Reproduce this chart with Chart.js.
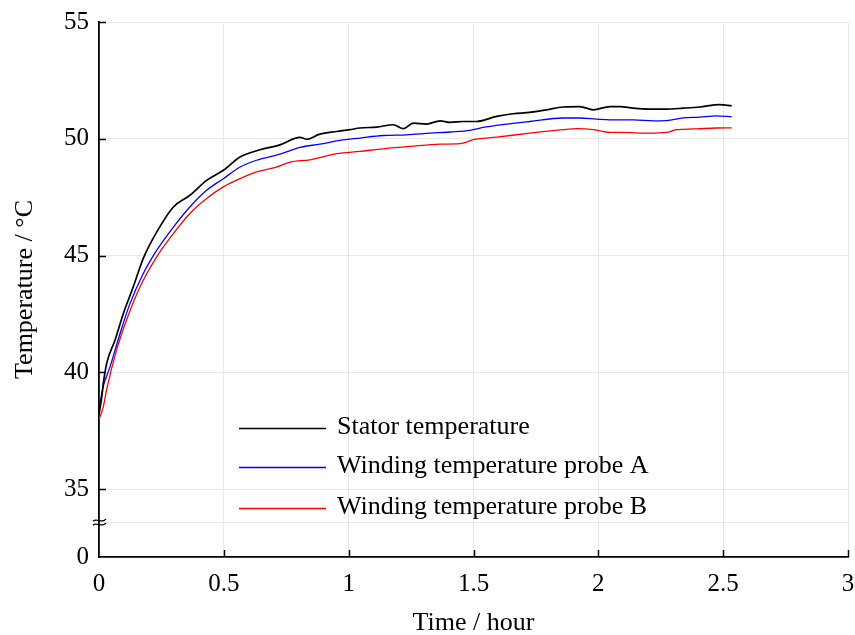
<!DOCTYPE html>
<html>
<head>
<meta charset="utf-8">
<script src="https://cdn.jsdelivr.net/npm/chart.js@4"></script>
<style>
  html, body { margin: 0; padding: 0; background: #fff; }
  #wrap { width: 855px; height: 635px; }
</style>
</head>
<body>
<div id="wrap"><canvas id="tempChart" width="855" height="635"></canvas></div>
<script>
const seriesLabels = ['Stator temperature', 'Winding temperature probe A', 'Winding temperature probe B'];
const seriesColors = ['#000000', '#0000ff', '#ff0000'];

const statorTime = [0, 0.011, 0.017, 0.031, 0.064, 0.097, 0.137, 0.177, 0.231, 0.298, 0.364, 0.431, 0.498, 0.565, 0.645, 0.725, 0.805, 0.832, 0.885, 0.952, 1.005, 1.045, 1.112, 1.179, 1.219, 1.259, 1.312, 1.366, 1.406, 1.459, 1.513, 1.593, 1.659, 1.726, 1.793, 1.859, 1.926, 1.980, 2.046, 2.086, 2.140, 2.206, 2.273, 2.340, 2.406, 2.486, 2.534];
const statorTemp = [38.2, 38.94, 39.5, 40.39, 41.37, 42.5, 43.65, 44.87, 46.0, 47.08, 47.58, 48.22, 48.65, 49.22, 49.53, 49.74, 50.06, 49.98, 50.2, 50.31, 50.39, 50.46, 50.5, 50.6, 50.43, 50.67, 50.63, 50.77, 50.7, 50.74, 50.74, 50.96, 51.07, 51.13, 51.24, 51.36, 51.38, 51.24, 51.38, 51.38, 51.31, 51.27, 51.27, 51.31, 51.36, 51.46, 51.41];

const probeATime = [0, 0.011, 0.017, 0.044, 0.084, 0.124, 0.177, 0.231, 0.298, 0.364, 0.431, 0.498, 0.565, 0.631, 0.725, 0.805, 0.885, 0.965, 1.045, 1.139, 1.232, 1.326, 1.406, 1.486, 1.526, 1.593, 1.726, 1.859, 1.926, 1.993, 2.046, 2.140, 2.220, 2.273, 2.340, 2.406, 2.473, 2.534];
const probeATemp = [38.4, 39.09, 39.4, 40.23, 41.65, 42.94, 44.22, 45.22, 46.22, 47.08, 47.79, 48.29, 48.79, 49.08, 49.34, 49.63, 49.77, 49.93, 50.03, 50.14, 50.17, 50.24, 50.29, 50.36, 50.46, 50.57, 50.74, 50.89, 50.89, 50.84, 50.81, 50.81, 50.77, 50.78, 50.89, 50.93, 50.98, 50.94];

const probeBTime = [0, 0.017, 0.03, 0.07, 0.11, 0.164, 0.231, 0.298, 0.364, 0.431, 0.498, 0.565, 0.631, 0.711, 0.765, 0.845, 0.952, 1.045, 1.139, 1.245, 1.366, 1.446, 1.499, 1.593, 1.726, 1.859, 1.913, 1.980, 2.046, 2.086, 2.206, 2.273, 2.313, 2.380, 2.473, 2.534];
const probeBTemp = [38.0, 38.51, 39.23, 40.94, 42.23, 43.65, 44.94, 45.94, 46.8, 47.44, 47.94, 48.29, 48.58, 48.79, 49.0, 49.1, 49.36, 49.46, 49.57, 49.67, 49.77, 49.79, 49.96, 50.07, 50.24, 50.39, 50.43, 50.39, 50.27, 50.27, 50.24, 50.27, 50.39, 50.42, 50.46, 50.47];

const xTicks = [0, 0.5, 1, 1.5, 2, 2.5, 3];
const yTicks = [35, 40, 45, 50, 55];
// eixo quebrado: o fundo representa 0, a quebra fica logo abaixo de 35
const yBottom = 32.09;
const yBreak = 33.58;

const FONT = "'Liberation Serif', 'DejaVu Serif', serif";

function toPoints(xs, ys) {
  return xs.map((x, i) => ({ x: x, y: ys[i] }));
}

// Marcas de escala para dentro, símbolo de quebra e legenda
const extrasPlugin = {
  id: 'extras',
  afterDraw(chart) {
    const ctx = chart.ctx;
    const xs = chart.scales.x;
    const ys = chart.scales.y;
    const area = chart.chartArea;
    ctx.save();
    ctx.strokeStyle = '#000';
    ctx.lineWidth = 1.5;
    // ticks do eixo y
    yTicks.forEach(v => {
      const py = Math.round(ys.getPixelForValue(v)) + 0.5;
      ctx.beginPath();
      ctx.moveTo(area.left, py);
      ctx.lineTo(area.left + 7, py);
      ctx.stroke();
    });
    // ticks do eixo x
    xTicks.slice(1).forEach(v => {
      const px = Math.round(xs.getPixelForValue(v)) + 0.5;
      ctx.beginPath();
      ctx.moveTo(px, area.bottom);
      ctx.lineTo(px, area.bottom - 7);
      ctx.stroke();
    });
    // símbolo de quebra
    const by = ys.getPixelForValue(yBreak);
    ctx.lineWidth = 1.2;
    [-2, 2].forEach(off => {
      ctx.beginPath();
      const x0 = area.left - 6, x1 = area.left + 7;
      ctx.moveTo(x0, by + off + 1);
      ctx.bezierCurveTo(x0 + 4, by + off - 3, x1 - 6, by + off + 4, x1, by + off - 1);
      ctx.stroke();
    });
    // legenda
    ctx.font = '26px ' + FONT;
    ctx.textBaseline = 'middle';
    ctx.fillStyle = '#000';
    const lx = area.left + 140;
    const rows = [428, 467, 508];
    chart.data.datasets.forEach((ds, i) => {
      const ly = rows[i] + 0.5;
      ctx.strokeStyle = ds.borderColor;
      ctx.lineWidth = 1.3;
      ctx.beginPath();
      ctx.moveTo(lx, ly);
      ctx.lineTo(lx + 87, ly);
      ctx.stroke();
      ctx.fillText(ds.label, lx + 98, ly - 1);
    });
    ctx.restore();
  }
};

const ctx = document.getElementById('tempChart').getContext('2d');
new Chart(ctx, {
  type: 'line',
  data: {
    datasets: [
      { label: seriesLabels[0], data: toPoints(statorTime, statorTemp), borderColor: seriesColors[0], borderWidth: 1.7 },
      { label: seriesLabels[1], data: toPoints(probeATime, probeATemp), borderColor: seriesColors[1], borderWidth: 1.3 },
      { label: seriesLabels[2], data: toPoints(probeBTime, probeBTemp), borderColor: seriesColors[2], borderWidth: 1.3 }
    ]
  },
  options: {
    responsive: false,
    animation: false,
    devicePixelRatio: 1,
    layout: { padding: { left: 0, right: 7, top: 22, bottom: 0 } },
    elements: { point: { radius: 0 }, line: { tension: 0, fill: false, cubicInterpolationMode: 'monotone' } },
    plugins: { legend: { display: false }, tooltip: { enabled: false } },
    scales: {
      x: {
        type: 'linear',
        min: 0,
        max: 3,
        afterBuildTicks(scale) { scale.ticks = xTicks.map(v => ({ value: v })); },
        afterFit(scale) { scale.height = 78; scale.paddingLeft = 0; scale.paddingRight = 0; },
        grid: { color: '#e8e8e8', lineWidth: 1, drawTicks: false },
        border: { color: '#000', width: 1.8 },
        ticks: { color: '#000', padding: 12, font: { family: FONT, size: 25 }, maxRotation: 0, callback: v => String(v) },
        title: { display: true, text: 'Time / hour', color: '#000', font: { family: FONT, size: 26 }, padding: { top: 0, bottom: -4 } }
      },
      y: {
        type: 'linear',
        min: yBottom,
        max: 55,
        afterBuildTicks(scale) { scale.ticks = [yBottom, yBreak].concat(yTicks).map(v => ({ value: v })); },
        afterFit(scale) { scale.width = 99; scale.paddingTop = 0; scale.paddingBottom = 0; },
        grid: {
          drawTicks: false,
          lineWidth: 1,
          color: c => (c.tick && c.tick.value === yBottom) ? 'rgba(0,0,0,0)' : '#e8e8e8'
        },
        border: { color: '#000', width: 1.8 },
        ticks: {
          color: '#000',
          padding: 10,
          font: { family: FONT, size: 25 },
          callback: v => (v === yBottom ? '0' : (v === yBreak ? '' : String(v)))
        },
        title: { display: true, text: 'Temperature / °C', color: '#000', font: { family: FONT, size: 26 }, padding: { top: 10, bottom: 0 } }
      }
    }
  },
  plugins: [extrasPlugin]
});
</script>
</body>
</html>
